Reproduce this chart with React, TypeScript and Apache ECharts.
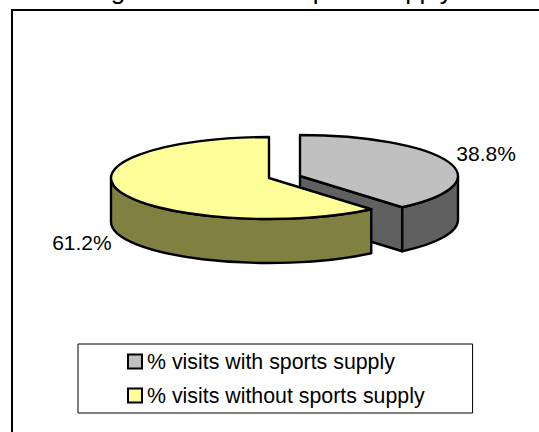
import React, { useEffect, useRef } from "react";
import * as echarts from "echarts";

const categories = ["% visits with sports supply", "% visits without sports supply"];
const shareValues = [38.8, 61.2];
const titleText = "Figure: Visits with sports supply";

const FONT = '"Liberation Sans", Arial, sans-serif';
const faceColors = ["#C0C0C0", "#FFFF99"];
const sideColors = ["#606060", "#808040"];
const apexes = [[300, 176], [269, 178]];
const labelOffsets = [[8, -8], [-9, 6]];
const labelAligns = ["left", "right"];
const RX = 158;
const RY = 41;
const DEPTH = 44;
const total = shareValues.reduce((a, b) => a + b, 0);

function renderSlice(index: number) {
  return (_params: any, api: any) => {
    const value = api.value(0) as number;
    const before = shareValues.slice(0, index).reduce((a, b) => a + b, 0);
    const t0 = (before / total) * Math.PI * 2;
    const t1 = t0 + (value / total) * Math.PI * 2;
    const [cx, cy] = apexes[index];
    const pt = (t: number, dy = 0) => [cx + RX * Math.sin(t), cy - RY * Math.cos(t) + dy];
    const arc = (t: number, large: number, sweep: number, dy = 0) => {
      const p = pt(t, dy);
      return `A ${RX} ${RY} 0 ${large} ${sweep} ${p[0]} ${p[1]}`;
    };
    const line = { stroke: "#000", lineWidth: 2.4, lineJoin: "round" };
    const children: any[] = [];

    // Inner cut face at the end of the slice (only seen on the slice on the right)
    if (t1 < Math.PI) {
      const e = pt(t1);
      children.push({
        type: "path",
        shape: { pathData: `M ${cx} ${cy} L ${e[0]} ${e[1]} L ${e[0]} ${e[1] + DEPTH} L ${cx} ${cy + DEPTH} Z` },
        style: { fill: sideColors[index], ...line },
      });
    }

    // Outer wall: the part of the rim on the viewer's side
    const vis0 = Math.max(t0, Math.PI / 2);
    const vis1 = Math.min(t1, (Math.PI * 3) / 2);
    if (vis1 > vis0) {
      const a = pt(vis0);
      const b = pt(vis1);
      children.push({
        type: "path",
        shape: {
          pathData: `M ${a[0]} ${a[1]} ${arc(vis1, 0, 1)} L ${b[0]} ${b[1] + DEPTH} ${arc(vis0, 0, 0, DEPTH)} Z`,
        },
        style: { fill: sideColors[index], ...line },
      });
    }

    // Top face
    const s = pt(t0);
    const large = t1 - t0 > Math.PI ? 1 : 0;
    children.push({
      type: "path",
      shape: { pathData: `M ${cx} ${cy} L ${s[0]} ${s[1]} ${arc(t1, large, 1)} Z` },
      style: { fill: faceColors[index], ...line },
    });

    // Value label next to the rim at the slice's middle angle
    const mid = (t0 + t1) / 2;
    const m = pt(mid, index === 1 ? DEPTH : 0);
    children.push({
      type: "text",
      x: m[0] + labelOffsets[index][0],
      y: m[1] + labelOffsets[index][1],
      style: {
        text: `${value.toFixed(1)}%`,
        fill: "#000",
        font: `21px ${FONT}`,
        align: labelAligns[index],
        verticalAlign: "middle",
      },
    });
    return { type: "group", children };
  };
}

export default function App() {
  const ref = useRef<HTMLDivElement>(null);
  useEffect(() => {
    document.body.style.margin = "0";
    const chart = echarts.init(ref.current!, null, { renderer: "svg" });
    chart.setOption({
      animation: false,
      backgroundColor: "#fff",
      title: {
        text: titleText,
        left: 271,
        textAlign: "center",
        top: -23,
        padding: 0,
        textStyle: { fontFamily: FONT, fontSize: 26, fontWeight: "normal", color: "#000" },
      },
      graphic: [
        {
          type: "rect",
          z: -1,
          shape: { x: 12, y: 10, width: 620, height: 520 },
          style: { fill: "none", stroke: "#000", lineWidth: 2 },
        },
      ],
      legend: {
        orient: "vertical",
        left: 78,
        top: 344,
        padding: [7, 48, 7, 49],
        itemGap: 13,
        itemWidth: 14,
        itemHeight: 14,
        icon: "rect",
        selectedMode: false,
        backgroundColor: "#fff",
        borderColor: "#000",
        borderWidth: 1,
        textStyle: { fontFamily: FONT, fontSize: 21.35, color: "#000" },
        data: categories.map((name, i) => ({
          name,
          itemStyle: { color: faceColors[i], borderColor: "#000", borderWidth: 2 },
        })),
      },
      series: categories.map((name, i) => ({
        type: "custom",
        name,
        coordinateSystem: "none",
        silent: true,
        itemStyle: { color: faceColors[i] },
        data: [[shareValues[i]]],
        z: 2 + i,
        renderItem: renderSlice(i),
      })),
    });
    return () => chart.dispose();
  }, []);
  return <div ref={ref} style={{ width: 539, height: 432, overflow: "hidden" }} />;
}
